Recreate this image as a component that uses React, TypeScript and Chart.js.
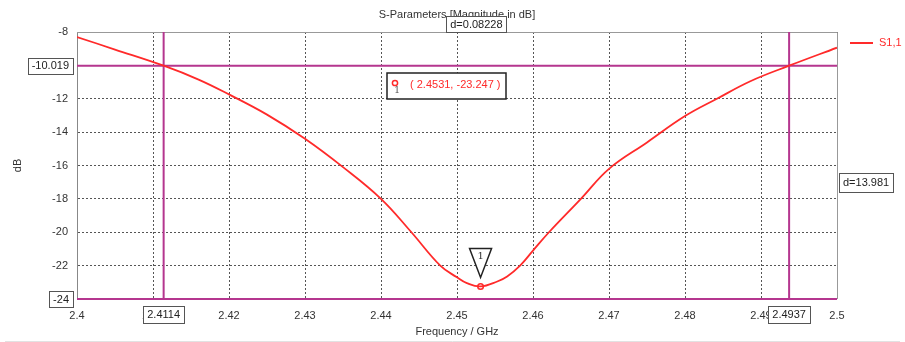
import React, { useEffect, useRef } from "react";
import { Chart, registerables } from "chart.js";

Chart.register(...registerables);

// ---- data ----
const freqGHz = [
  2.4, 2.405, 2.4114, 2.416, 2.42, 2.425, 2.43, 2.435, 2.44, 2.444, 2.4478,
  2.45, 2.4513, 2.4531, 2.4553, 2.4566, 2.4583, 2.46, 2.4621, 2.4663, 2.47,
  2.475, 2.48, 2.4842, 2.4886, 2.4937, 2.5,
];
const s11dB = [
  -8.3, -9.05, -10.02, -10.85, -11.74, -12.95, -14.4, -16.1, -18.0, -20.0, -22.0,
  -22.7, -23.05, -23.247, -22.95, -22.65, -22.0, -21.1, -20.0, -18.0, -16.2,
  -14.62, -13.04, -12.0, -10.95, -10.02, -8.94,
];
const xTicks = [2.4, 2.41, 2.42, 2.43, 2.44, 2.45, 2.46, 2.47, 2.48, 2.49, 2.5];
const yTicks = [-8, -10, -12, -14, -16, -18, -20, -22, -24];
const markerFreqs = [2.4114, 2.4937];
const markerFreqLabels = ["2.4114", "2.4937"];
const markerLevel = -10.019;
const markerLevelLabel = "-10.019";
const floorLevel = -24;
const floorLabel = "-24";
const minPoint = { x: 2.4531, y: -23.247 };
const minPointLabel = "( 2.4531, -23.247 )";
const deltaXLabel = "d=0.08228";
const deltaYLabel = "d=13.981";
const seriesName = "S1,1";
const chartTitle = "S-Parameters [Magnitude in dB]";
const xTitle = "Frequency / GHz";
const yTitle = "dB";

const FONT = "'Liberation Sans', Arial, sans-serif";
const RED = "#ff2a2a";
const MAGENTA = "#b5368f";

function box(ctx: CanvasRenderingContext2D, text: string, cx: number, cy: number, align: "center" | "right" | "left", h = 16) {
  ctx.save();
  ctx.font = `11px ${FONT}`;
  const w = ctx.measureText(text).width + 8;
  let x0 = cx - w / 2;
  if (align === "right") x0 = cx - w;
  if (align === "left") x0 = cx;
  const y0 = cy - h / 2;
  ctx.fillStyle = "#fff";
  ctx.fillRect(x0, y0, w, h);
  ctx.strokeStyle = "#555";
  ctx.lineWidth = 1;
  ctx.strokeRect(Math.round(x0) + 0.5, Math.round(y0) + 0.5, Math.round(w), Math.round(h));
  ctx.fillStyle = "#222";
  ctx.textAlign = "center";
  ctx.textBaseline = "middle";
  ctx.fillText(text, x0 + w / 2, cy + 0.5);
  ctx.restore();
}

const overlay = {
  id: "overlay",
  beforeDatasetsDraw(chart: any) {
    const { ctx, chartArea: a, scales } = chart;
    const xs = scales.x, ys = scales.y;
    ctx.save();
    // frame top/right
    ctx.strokeStyle = "#999";
    ctx.lineWidth = 1;
    ctx.beginPath();
    ctx.moveTo(a.left, a.top + 0.5);
    ctx.lineTo(a.right + 0.5, a.top + 0.5);
    ctx.lineTo(a.right + 0.5, a.bottom);
    ctx.stroke();
    // magenta marker lines
    ctx.strokeStyle = MAGENTA;
    ctx.lineWidth = 2;
    ctx.beginPath();
    const yl = ys.getPixelForValue(markerLevel);
    ctx.moveTo(a.left, yl);
    ctx.lineTo(a.right, yl);
    const yf = ys.getPixelForValue(floorLevel);
    ctx.moveTo(a.left, yf);
    ctx.lineTo(a.right, yf);
    for (const f of markerFreqs) {
      const px = xs.getPixelForValue(f);
      ctx.moveTo(px, a.top);
      ctx.lineTo(px, a.bottom);
    }
    ctx.stroke();
    ctx.restore();
  },
  afterDraw(chart: any) {
    const { ctx, chartArea: a, scales } = chart;
    const xs = scales.x, ys = scales.y;
    const W = chart.width;
    ctx.save();
    // title
    ctx.font = `11px ${FONT}`;
    ctx.fillStyle = "#333";
    ctx.textAlign = "center";
    ctx.textBaseline = "middle";
    ctx.fillText(chartTitle, (a.left + a.right) / 2, 15);
    // axis titles
    ctx.fillText(xTitle, (a.left + a.right) / 2, 332);
    ctx.save();
    ctx.translate(18, (a.top + a.bottom) / 2);
    ctx.rotate(-Math.PI / 2);
    ctx.fillText(yTitle, 0, 0);
    ctx.restore();
    // legend
    ctx.strokeStyle = RED;
    ctx.lineWidth = 2;
    ctx.beginPath();
    ctx.moveTo(a.right + 13, 43);
    ctx.lineTo(a.right + 36, 43);
    ctx.stroke();
    ctx.fillStyle = RED;
    ctx.textAlign = "left";
    ctx.fillText(seriesName, a.right + 42, 43);
    ctx.restore();

    // value boxes
    box(ctx, markerLevelLabel, a.left - 4, ys.getPixelForValue(markerLevel), "right");
    box(ctx, floorLabel, a.left - 4, ys.getPixelForValue(floorLevel), "right");
    markerFreqs.forEach((f, i) => box(ctx, markerFreqLabels[i], xs.getPixelForValue(f), 314.5, "center", 17));
    const midX = (xs.getPixelForValue(markerFreqs[0]) + xs.getPixelForValue(markerFreqs[1])) / 2;
    box(ctx, deltaXLabel, midX, a.top - 8, "center");
    const midY = (ys.getPixelForValue(markerLevel) + ys.getPixelForValue(floorLevel)) / 2;
    box(ctx, deltaYLabel, a.right + 2, midY, "left", 19);

    // marker info box
    ctx.save();
    const bx = 387, by = 73, bw = 119, bh = 26;
    ctx.fillStyle = "#fff";
    ctx.fillRect(bx, by, bw, bh);
    ctx.strokeStyle = "#222";
    ctx.lineWidth = 1.5;
    ctx.strokeRect(bx, by, bw, bh);
    ctx.strokeStyle = RED;
    ctx.lineWidth = 1.5;
    ctx.beginPath();
    ctx.arc(bx + 8, by + 10, 2.6, 0, Math.PI * 2);
    ctx.stroke();
    ctx.fillStyle = "#555";
    ctx.font = `9px 'DejaVu Serif', serif`;
    ctx.textAlign = "center";
    ctx.textBaseline = "middle";
    ctx.fillText("1", bx + 10, by + 18);
    ctx.fillStyle = RED;
    ctx.font = `11px ${FONT}`;
    ctx.textAlign = "left";
    ctx.fillText(minPointLabel, bx + 23, by + 12);
    ctx.restore();

    // triangle marker above minimum
    ctx.save();
    const mx = xs.getPixelForValue(minPoint.x);
    const my = ys.getPixelForValue(minPoint.y);
    ctx.fillStyle = "#fff";
    ctx.strokeStyle = "#222";
    ctx.lineWidth = 1.5;
    ctx.beginPath();
    ctx.moveTo(mx - 11, my - 38);
    ctx.lineTo(mx + 11, my - 38);
    ctx.lineTo(mx, my - 9);
    ctx.closePath();
    ctx.fill();
    ctx.stroke();
    ctx.fillStyle = "#333";
    ctx.font = `10px 'DejaVu Serif', serif`;
    ctx.textAlign = "center";
    ctx.textBaseline = "middle";
    ctx.fillText("1", mx, my - 30);
    ctx.restore();

    // bottom separator
    ctx.save();
    ctx.strokeStyle = "#e2e2e2";
    ctx.lineWidth = 1;
    ctx.beginPath();
    ctx.moveTo(5, 341.5);
    ctx.lineTo(W - 5, 341.5);
    ctx.stroke();
    ctx.restore();
  },
};

export default function App() {
  const ref = useRef<HTMLCanvasElement | null>(null);
  useEffect(() => {
    if (!ref.current) return;
    const chart = new Chart(ref.current, {
      type: "line",
      data: {
        datasets: [
          {
            label: seriesName,
            data: freqGHz.map((f, i) => ({ x: f, y: s11dB[i] })),
            borderColor: RED,
            borderWidth: 1.8,
            pointRadius: 0,
            tension: 0.4,
            fill: false,
          },
          {
            label: "marker",
            data: [{ x: minPoint.x, y: minPoint.y }],
            borderColor: RED,
            backgroundColor: "#fff",
            pointRadius: 2.8,
            pointBorderWidth: 1.5,
            showLine: false,
          },
        ],
      },
      options: {
        responsive: false,
        animation: false,
        layout: { padding: { left: 0, top: 32, right: 68, bottom: 0 } },
        plugins: { legend: { display: false }, title: { display: false }, tooltip: { enabled: false } },
        events: [],
        scales: {
          x: {
            type: "linear",
            min: 2.4,
            max: 2.5,
            afterBuildTicks: (s: any) => {
              s.ticks = xTicks.map((v) => ({ value: v }));
            },
            afterFit: (s: any) => {
              s.height = 43;
            },
            ticks: {
              callback: (v: any) => String(+Number(v).toFixed(2)),
              font: { family: FONT, size: 11 },
              color: "#333",
              padding: 10,
              maxRotation: 0,
              autoSkip: false,
            },
            grid: { color: "#555", lineWidth: 1, drawTicks: false },
            border: { display: false, dash: [2, 2] },
          },
          y: {
            type: "linear",
            min: -24,
            max: -8,
            afterBuildTicks: (s: any) => {
              s.ticks = yTicks.map((v) => ({ value: v }));
            },
            afterFit: (s: any) => {
              s.width = 77;
            },
            ticks: {
              font: { family: FONT, size: 11 },
              color: "#333",
              padding: 9,
              autoSkip: false,
            },
            grid: { color: "#555", lineWidth: 1, drawTicks: false },
            border: { display: true, color: "#888", width: 1, dash: [2, 2] },
          },
        },
      },
      plugins: [overlay],
    } as any);
    return () => chart.destroy();
  }, []);
  return (
    <div style={{ position: "fixed", left: 0, top: 0, width: 905, height: 342, background: "#fff" }}>
      <canvas ref={ref} width={905} height={342} style={{ width: 905, height: 342, display: "block" }} />
    </div>
  );
}
